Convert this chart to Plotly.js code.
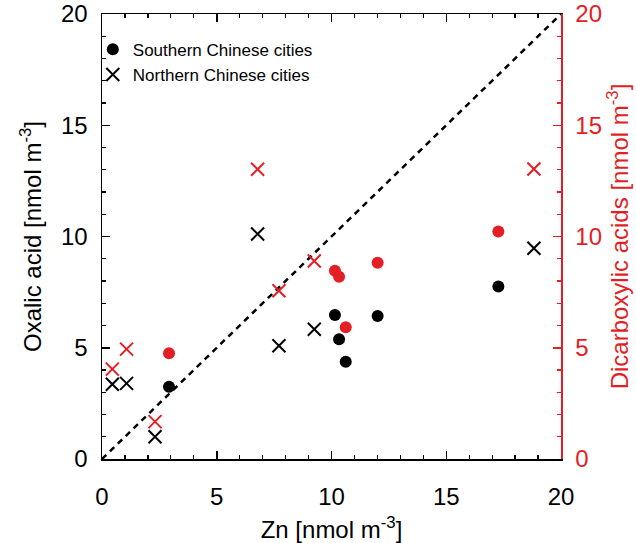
<!DOCTYPE html>
<html>
<head>
<meta charset="utf-8">
<script src="https://cdn.plot.ly/plotly-3.0.1.min.js"></script>
<style>html,body{margin:0;padding:0;background:#fff;}#chart{width:636px;height:543px;}</style>
</head>
<body>
<div id="chart"></div>
<script>
// Southern Chinese cities
var southZn = [2.92, 10.15, 10.33, 10.62, 12.01, 17.27];
var southOxalic = [3.25, 6.47, 5.38, 4.37, 6.43, 7.75];
var southDiacids = [4.75, 8.46, 8.19, 5.92, 8.82, 10.22];
// Northern Chinese cities
var northZn = [0.45, 1.07, 2.31, 6.78, 7.71, 9.25, 18.82];
var northOxalic = [3.36, 3.40, 1.00, 10.11, 5.09, 5.83, 9.47];
var northDiacids = [4.04, 4.94, 1.68, 13.02, 7.56, 8.90, 13.03];
// 1:1 reference line
var oneToOneX = [0, 20];
var oneToOneY = [0, 20];
var xTicks = [0, 5, 10, 15, 20];
var yTicks = [0, 5, 10, 15, 20];

var RED = '#e31e24';
var FONT = 'Liberation Sans, Arial, Helvetica, sans-serif';

var traces = [
  {x: oneToOneX, y: oneToOneY, mode: 'lines', showlegend: false,
   line: {color: '#000', width: 2.5, dash: '6px,5px'}, hoverinfo: 'skip'},
  {x: southZn, y: southDiacids, yaxis: 'y2', mode: 'markers', showlegend: false,
   marker: {symbol: 'circle', size: 12, color: RED}},
  {x: northZn, y: northDiacids, yaxis: 'y2', mode: 'markers', showlegend: false,
   marker: {symbol: 'x-thin-open', size: 13, color: RED, line: {color: RED, width: 2}}},
  {x: southZn, y: southOxalic, mode: 'markers', name: 'Southern Chinese cities',
   marker: {symbol: 'circle', size: 12, color: '#000'}},
  {x: northZn, y: northOxalic, mode: 'markers', name: 'Northern Chinese cities',
   marker: {symbol: 'x-thin-open', size: 13, color: '#000', line: {color: '#000', width: 2}}}
];

var layout = {
  width: 636, height: 543,
  margin: {l: 102, r: 75, t: 14, b: 84, pad: 0},
  paper_bgcolor: '#fff', plot_bgcolor: '#fff',
  font: {family: FONT, size: 24, color: '#000'},
  showlegend: true,
  legend: {x: -0.02, y: 0.96, xanchor: 'left', yanchor: 'top',
           font: {family: FONT, size: 17, color: '#000'},
           bgcolor: 'rgba(0,0,0,0)', itemwidth: 30, tracegroupgap: 0},
  xaxis: {
    range: [0, 20], tickvals: xTicks, ticktext: xTicks.map(String),
    showgrid: false, zeroline: false, showline: true, linecolor: '#000', linewidth: 1.5,
    mirror: 'ticks', ticks: 'inside', ticklen: 8, tickwidth: 1.5, tickcolor: '#000',
    minor: {dtick: 1, ticks: 'inside', ticklen: 4, tickwidth: 1.2, tickcolor: '#000', showgrid: false},
    tickfont: {size: 24}, ticklabelstandoff: 16,
    title: {text: 'Zn [nmol m<sup>-3</sup>]', font: {size: 24}, standoff: 12}
  },
  yaxis: {
    range: [0, 20], tickvals: yTicks, ticktext: yTicks.map(String),
    showgrid: false, zeroline: false, showline: true, linecolor: '#000', linewidth: 1.5,
    ticks: 'inside', ticklen: 8, tickwidth: 1.5, tickcolor: '#000',
    minor: {dtick: 1, ticks: 'inside', ticklen: 4, tickwidth: 1.2, tickcolor: '#000', showgrid: false},
    tickfont: {size: 24}, ticklabelstandoff: 8,
    title: {text: 'Oxalic acid [nmol m<sup>-3</sup>]', font: {size: 24}, standoff: 12}
  },
  yaxis2: {
    range: [0, 20], tickvals: yTicks, ticktext: yTicks.map(String),
    overlaying: 'y', side: 'right',
    showgrid: false, zeroline: false, showline: true, linecolor: RED, linewidth: 1.5,
    ticks: 'inside', ticklen: 8, tickwidth: 1.5, tickcolor: RED,
    minor: {dtick: 1, ticks: 'inside', ticklen: 4, tickwidth: 1.2, tickcolor: RED, showgrid: false},
    tickfont: {size: 24, color: RED}, ticklabelstandoff: 8,
    title: {text: 'Dicarboxylic acids [nmol m<sup>-3</sup>]', font: {size: 24, color: RED}, standoff: 10}
  }
};

Plotly.newPlot('chart', traces, layout, {staticPlot: true, displayModeBar: false});
</script>
</body>
</html>
